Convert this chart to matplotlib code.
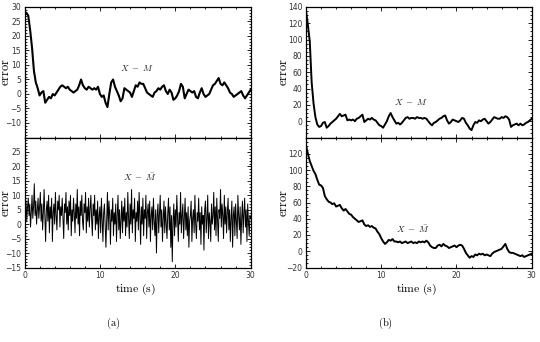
import numpy as np
import matplotlib
matplotlib.use("Agg")
import matplotlib.pyplot as plt
from matplotlib.ticker import MultipleLocator, AutoMinorLocator

plt.rcParams['mathtext.fontset'] = 'cm'
plt.rcParams['font.family'] = ['DejaVu Sans']

# ---------------- data ----------------
# (a) top: X - M, sampled every 0.25 s
err_a_top = [27, 28, 27, 22, 16, 8, 4, 2, -0.5, 0.5, 1, -3, -2, -1, -1.5, 0, -0.5, 0.5, 1.5, 2.5,
             3, 2.5, 2, 2.5, 1.5, 1, 0.5, 1, 1.5, 3, 5, 3, 2, 1.5, 2.5, 2, 1.5, 2, 1.5, 2.5,
             0, -1, -0.5, -3, -4.5, 0, 4, 5, 2.5, 1, -0.5, -2.5, -1.5, 2, 1.5, 1, 0.5, -1, 1, 3,
             2.5, 4, 3.5, 3.5, 2, 0.5, 0, -0.5, -1, 0.5, 1, 2, 1.5, 2.5, 3, 1, 0, 1.5, 0.5, -2,
             -1.5, -0.5, 1, 3.5, 2.5, -1.5, 0, 1.5, 1, 0.5, 1, -1, -1.5, 0.5, 2, 0, -1, -0.5, 0, 1.5,
             3, 3.5, 4.5, 5.5, 3.5, 3, 4, 3, 2, 0.5, 0, -1, -0.5, 0, 0.5, 1, -0.5, -1.5, -0.5, 0.5,
             1.5]

# (a) bottom: X - Mbar, sampled every 0.1 s
err_a_bot = [5, 2, 8, 1, 6, 9, 3, 7, -1, 4,
             10, 2, 6, 14, 3, 8, 0, 5, 9, 2,
             6, 11, 1, 7, -2, 4, 12, 3, -6, 5,
             8, 1, 10, -3, 6, 2, 9, -6, 4, 7,
             0, 11, 3, -2, 8, 5, 10, -1, 6, 3,
             9, 2, -5, 7, 4, 11, 0, 6, -2, 8,
             3, 10, -4, 5, 1, 9, 4, -3, 7, 2,
             12, 0, 6, -4, 8, 3, 10, 1, -2, 7,
             4, 11, -3, 6, 1, 9, -1, 5, 10, 2,
             -4, 7, 3, 10, -2, 5, 0, 8, -5, 3,
             6, -3, 9, 1, -6, 4, 7, -1, -8, 2,
             11, -2, 8, 3, -7, 5, 1, 9, -4, 4,
             0, 7, -6, 3, 10, -2, 5, -5, 2, 8,
             -3, 6, 1, 9, -4, 4, -1, 11, 2, -5,
             7, 0, 12, -3, 5, 2, 9, -6, 4, 1,
             8, -2, 11, 3, -7, 6, 0, 9, -4, 5,
             2, 10, -5, 4, 7, -1, 8, -6, 3, 6,
             -2, 9, 1, -4, 5, -10, 3, 7, -3, 4,
             10, -1, 5, -6, 2, 8, -3, 6, 0, -5,
             4, 9, -2, 6, -8, 3, -13, 1, 7, -4,
             5, -1, 10, 2, -6, 4, 0, 11, -3, 3,
             7, -5, 2, 9, -2, 4, -4, 6, -8, 1,
             3, 8, -6, 2, 5, -3, 10, 0, -5, 4,
             1, 9, -2, 4, -7, 6, 0, 3, -9, 5,
             8, -3, 2, 10, -5, 4, 1, -6, 7, 0,
             3, 11, -2, 6, -4, 9, 1, -6, 5, 2,
             12, -1, 7, 3, -5, 10, 0, 6, -3, 4,
             9, -2, 5, -6, 2, 8, -8, 3, 6, -4,
             7, 1, -5, 10, 3, -2, 6, -7, 2, 8,
             -3, 4, 9, -1, 5, -6, 7, 1, -4, 3,
             2]

# (b) top: X - M, sampled every 0.25 s
err_b_top = [135, 118, 98, 48, 22, 5, -4, -7, -6, -2, -1, -8, -6, -3, -1, 1, 3, 6, 9, 6,
             7, 8, 1, 2, 1, 2, 0, 3, 4, 6, 8, -1, 1, 3, 2, 4, 2, 1, -2, -5,
             -6, -8, -4, 0, 6, 10, 5, 1, -3, -2, -4, -2, 1, 4, 5, 3, 4, 4, 3, 5,
             4, 4, 3, 4, 3, 0, -3, -5, -2, -1, 1, 3, 4, 6, 7, 1, -3, -1, 2, 1,
             0, -1, 1, 4, 3, -2, -5, -9, -11, -5, -1, -2, 1, 0, 2, 3, 0, -3, -1, 2,
             5, 4, 3, 3, 5, 4, 6, 5, 2, -7, -5, -4, -3, -5, -3, -5, -4, -2, -1, 1,
             3]

# (b) bottom: X - Mbar, sampled every 0.25 s
err_b_bot = [130, 120, 111, 105, 99, 95, 88, 82, 81, 78, 68, 64, 61, 60, 58, 59, 55, 56, 57, 53,
             50, 52, 49, 46, 45, 42, 40, 38, 36, 37, 38, 33, 31, 32, 30, 31, 29, 28, 24, 21,
             16, 12, 9, 11, 14, 13, 15, 12, 12, 11, 12, 10, 11, 12, 10, 11, 12, 10, 11, 10,
             12, 11, 12, 11, 13, 11, 7, 5, 4, 4, 7, 8, 6, 9, 7, 6, 4, 5, 6, 7,
             5, 7, 8, 7, 3, -2, -5, -8, -6, -7, -4, -5, -3, -4, -3, -5, -4, -5, -6, -3,
             -1, 0, 1, 2, 3, 6, 9, 3, -1, -2, -2, -3, -4, -5, -6, -5, -7, -6, -5, -4,
             -3]

t_max = 30
xticks = [0, 10, 20, 30]
yticks_a_top = [-10, -5, 0, 5, 10, 15, 20, 25, 30]
yticks_a_bot = [-15, -10, -5, 0, 5, 10, 15, 20, 25]
yticks_b_top = [0, 20, 40, 60, 80, 100, 120, 140]
yticks_b_bot = [-20, 0, 20, 40, 60, 80, 100, 120]

label_top = r'$X\ -\ M$'
label_bot = r'$X\ -\ \bar{M}$'

# ---------------- figure ----------------
fig = plt.figure(figsize=(5.4, 3.42), dpi=100)
W, H = 540.0, 342.0

def box(x0, x1, ytop, ybot):
    return [x0 / W, 1 - ybot / H, (x1 - x0) / W, (ybot - ytop) / H]

ax_at = fig.add_axes(box(24.5, 250.7, 7.0, 137.5))
ax_ab = fig.add_axes(box(24.5, 250.7, 137.5, 267.5))
ax_bt = fig.add_axes(box(306.0, 531.7, 7.0, 137.5))
ax_bb = fig.add_axes(box(306.0, 531.7, 137.5, 267.5))

series = [
    (ax_at, err_a_top, 1.5, (-15, 30), yticks_a_top, label_top, (15.0, 9.0), -0.057),
    (ax_ab, err_a_bot, 0.7, (-15, 30), yticks_a_bot, label_bot, (15.3, 16.2), -0.057),
    (ax_bt, err_b_top, 1.4, (-20, 140), yticks_b_top, label_top, (14.0, 23.6), -0.072),
    (ax_bb, err_b_bot, 1.4, (-20, 140), yticks_b_bot, label_bot, (14.2, 27.3), -0.072),
]

for ax, vals, lw, ylim, yt, lab, pos, lx in series:
    t = np.linspace(0, t_max, len(vals))
    ax.plot(t, vals, color='black', lw=lw)
    ax.set_xlim(0, t_max)
    ax.set_ylim(*ylim)
    ax.set_yticks(yt)
    ax.set_xticks(xticks)
    ax.xaxis.set_minor_locator(MultipleLocator(2))
    ax.yaxis.set_minor_locator(AutoMinorLocator(5 if ylim[0] == -15 else 4))
    ax.tick_params(which='both', direction='in', top=True, right=True,
                   labelsize=5.5, labelcolor='#333333', width=0.6, pad=2.5)
    ax.tick_params(which='major', length=3)
    ax.tick_params(which='minor', length=1.5)
    for s in ax.spines.values():
        s.set_linewidth(0.9)
    ax.text(pos[0], pos[1], lab, fontsize=6.5, ha='center', va='center', color='#222222')
    ax.set_ylabel(r'$\mathrm{error}$', fontsize=9)
    ax.yaxis.set_label_coords(lx, 0.5)

for ax in (ax_at, ax_bt):
    ax.tick_params(labelbottom=False)

for ax in (ax_ab, ax_bb):
    ax.set_xlabel(r'$\mathrm{time\ (s)}$', fontsize=8.5)
    ax.xaxis.set_label_coords(0.49, -0.112)

fig.text(113 / W, 1 - 323 / H, r'$\mathrm{(a)}$', fontsize=7.5, ha='center', va='center')
fig.text(385.7 / W, 1 - 323 / H, r'$\mathrm{(b)}$', fontsize=7.5, ha='center', va='center')

fig.savefig('out.png', dpi=100)
